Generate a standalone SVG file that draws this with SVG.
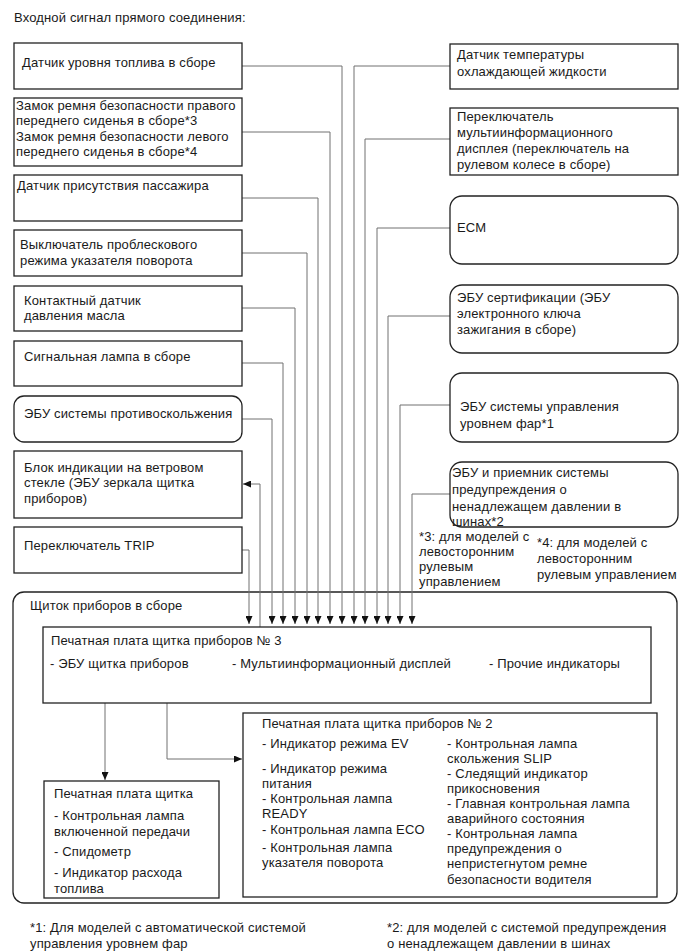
<svg xmlns="http://www.w3.org/2000/svg" width="691" height="952" viewBox="0 0 691 952">
<style>
text{font-family:"Liberation Sans",Arial,sans-serif;font-size:13px;letter-spacing:0.15px;fill:#1a1a1a}
.box{fill:#fff;stroke:#222;stroke-width:1.3}
.con{fill:none;stroke:#707070;stroke-width:1}
</style>
<defs>
<marker id="ah" markerUnits="userSpaceOnUse" markerWidth="8" markerHeight="7" refX="8" refY="3.5" orient="auto">
<path d="M0,0 L8,3.5 L0,7 z" fill="#111"/>
</marker>
</defs>
<rect width="691" height="952" fill="#fff"/>
<text x="14" y="22">Входной сигнал прямого соединения:</text>

<g id="outer">
<rect class="box" x="13" y="592" width="664" height="311" rx="11"/>
<text x="30" y="610">Щиток приборов в сборе</text>
</g>

<g id="connectors">
<polyline class="con" points="242,66 342,66 342,624" marker-end="url(#ah)"/>
<polyline class="con" points="242,132 330,132 330,624" marker-end="url(#ah)"/>
<polyline class="con" points="242,198 318,198 318,624" marker-end="url(#ah)"/>
<polyline class="con" points="242,253 307,253 307,624" marker-end="url(#ah)"/>
<polyline class="con" points="242,308 295,308 295,624" marker-end="url(#ah)"/>
<polyline class="con" points="242,363 283,363 283,624" marker-end="url(#ah)"/>
<polyline class="con" points="242,419 272,419 272,624" marker-end="url(#ah)"/>
<polyline class="con" points="260,627 260,484 243,484" marker-end="url(#ah)"/>
<polyline class="con" points="242,550 249,550 249,624" marker-end="url(#ah)"/>
<polyline class="con" points="450,66 354,66 354,624" marker-end="url(#ah)"/>
<polyline class="con" points="450,139 365,139 365,624" marker-end="url(#ah)"/>
<polyline class="con" points="450,228 377,228 377,624" marker-end="url(#ah)"/>
<polyline class="con" points="450,316 388,316 388,624" marker-end="url(#ah)"/>
<polyline class="con" points="450,405 400,405 400,624" marker-end="url(#ah)"/>
<polyline class="con" points="450,494 412,494 412,624" marker-end="url(#ah)"/>
<polyline class="con" points="105,703 105,780" marker-end="url(#ah)"/>
<polyline class="con" points="167,703 167,759 242,759" marker-end="url(#ah)"/>
</g>

<g id="fuel"><rect class="box" x="14" y="43" width="228" height="46"/><text x="22" y="67">Датчик уровня топлива в сборе</text></g>
<g id="buckle"><rect class="box" x="14" y="98" width="228" height="68"/>
<text x="16" y="110">Замок ремня безопасности правого</text>
<text x="16" y="125">переднего сиденья в сборе*3</text>
<text x="16" y="141">Замок ремня безопасности левого</text>
<text x="16" y="156">переднего сиденья в сборе*4</text></g>
<g id="occupant"><rect class="box" x="14" y="175" width="228" height="46"/><text x="17" y="190">Датчик присутствия пассажира</text></g>
<g id="hazard"><rect class="box" x="14" y="230" width="228" height="46"/><text x="20" y="249">Выключатель проблескового</text><text x="20" y="265">режима указателя поворота</text></g>
<g id="oil"><rect class="box" x="14" y="286" width="228" height="45"/><text x="24" y="305">Контактный датчик</text><text x="24" y="320">давления масла</text></g>
<g id="lamp"><rect class="box" x="14" y="341" width="228" height="45"/><text x="24" y="361">Сигнальная лампа в сборе</text></g>
<g id="skid"><rect class="box" x="14" y="396" width="228" height="46" rx="10"/><text x="24" y="418">ЭБУ системы противоскольжения</text></g>
<g id="hud"><rect class="box" x="14" y="451" width="228" height="67"/><text x="24" y="472">Блок индикации на ветровом</text><text x="24" y="487">стекле (ЭБУ зеркала щитка</text><text x="24" y="503">приборов)</text></g>
<g id="trip"><rect class="box" x="14" y="527" width="228" height="46"/><text x="24" y="550">Переключатель TRIP</text></g>

<g id="coolant"><rect class="box" x="450" y="44" width="228" height="45"/><text x="457" y="59">Датчик температуры</text><text x="457" y="76">охлаждающей жидкости</text></g>
<g id="mswitch"><rect class="box" x="450" y="108" width="228" height="67"/><text x="457" y="121">Переключатель</text><text x="457" y="137">мультиинформационного</text><text x="457" y="153">дисплея (переключатель на</text><text x="457" y="169">рулевом колесе в сборе)</text></g>
<g id="ecm"><rect class="box" x="450" y="196" width="228" height="68" rx="12"/><text x="457" y="232">ECM</text></g>
<g id="cert"><rect class="box" x="450" y="285" width="228" height="68" rx="12"/><text x="457" y="302">ЭБУ сертификации (ЭБУ</text><text x="457" y="318">электронного ключа</text><text x="457" y="334">зажигания в сборе)</text></g>
<g id="headlamp"><rect class="box" x="450" y="373" width="228" height="69" rx="12"/><text x="460" y="411">ЭБУ системы управления</text><text x="460" y="428">уровнем фар*1</text></g>
<g id="tpms"><rect class="box" x="450" y="462" width="228" height="65" rx="12"/><text x="452" y="477">ЭБУ и приемник системы</text><text x="452" y="494">предупреждения о</text><text x="452" y="511">ненадлежащем давлении в</text><text x="452" y="526">шинах*2</text></g>

<g id="note34">
<text x="419" y="541">*3: для моделей с</text><text x="419" y="556">левосторонним</text><text x="419" y="571">рулевым</text><text x="419" y="586">управлением</text>
<text x="537" y="547">*4: для моделей с</text><text x="537" y="563">левосторонним</text><text x="537" y="579">рулевым управлением</text>
</g>

<g id="board3"><rect class="box" x="43" y="627" width="608" height="76"/>
<text x="51" y="645">Печатная плата щитка приборов № 3</text>
<text x="50" y="668">- ЭБУ щитка приборов</text>
<text x="232" y="668">- Мультиинформационный дисплей</text>
<text x="489" y="668">- Прочие индикаторы</text></g>

<g id="board1"><rect class="box" x="44" y="781" width="175" height="117"/>
<text x="54" y="798">Печатная плата щитка</text>
<text x="54" y="820">- Контрольная лампа</text>
<text x="54" y="836">включенной передачи</text>
<text x="54" y="856">- Спидометр</text>
<text x="54" y="877">- Индикатор расхода</text>
<text x="54" y="893">топлива</text></g>

<g id="board2"><rect class="box" x="243" y="713" width="414" height="184"/>
<text x="262" y="728">Печатная плата щитка приборов № 2</text>
<text x="262" y="748">- Индикатор режима EV</text>
<text x="262" y="773">- Индикатор режима</text>
<text x="262" y="788">питания</text>
<text x="262" y="803">- Контрольная лампа</text>
<text x="262" y="818">READY</text>
<text x="262" y="834">- Контрольная лампа ECO</text>
<text x="262" y="852">- Контрольная лампа</text>
<text x="262" y="867">указателя поворота</text>
<text x="447" y="748">- Контрольная лампа</text>
<text x="447" y="763">скольжения SLIP</text>
<text x="447" y="778">- Следящий индикатор</text>
<text x="447" y="793">прикосновения</text>
<text x="447" y="808">- Главная контрольная лампа</text>
<text x="447" y="823">аварийного состояния</text>
<text x="447" y="838">- Контрольная лампа</text>
<text x="447" y="853">предупреждения о</text>
<text x="447" y="868">непристегнутом ремне</text>
<text x="447" y="884">безопасности водителя</text></g>

<g id="footnotes">
<text x="30" y="932">*1: Для моделей с автоматической системой</text>
<text x="30" y="948">управления уровнем фар</text>
<text x="387" y="932">*2: для моделей с системой предупреждения</text>
<text x="387" y="948">о ненадлежащем давлении в шинах</text>
</g>
</svg>
